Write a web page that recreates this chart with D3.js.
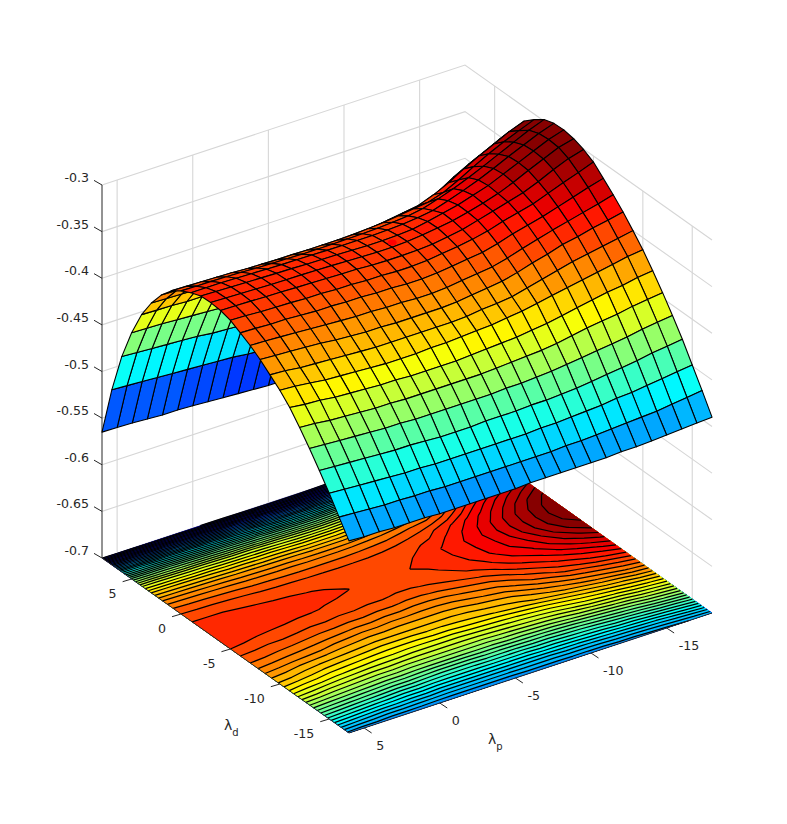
<!DOCTYPE html>
<html><head><meta charset="utf-8">
<script src="https://d3js.org/d3.v7.min.js"></script>
<style>html,body{margin:0;padding:0;background:#fff}svg{display:block}text{font-family:"DejaVu Sans",sans-serif;fill:#262626}</style>
</head><body><svg id="c" width="787" height="824"></svg>
<script>
const pValues=[-18,-17,-16,-15,-14,-13,-12,-11,-10,-9,-8,-7,-6,-5,-4,-3,-2,-1,0,1,2,3,4,5,6];
const dValues=[-17,-16,-15,-14,-13,-12,-11,-10,-9,-8,-7,-6,-5,-4,-3,-2,-1,0,1,2,3,4,5,6,7,8];
const zTicks=[-0.7,-0.65,-0.6,-0.55,-0.5,-0.45,-0.4,-0.35,-0.3];
const zTickLabels=["-0.7","-0.65","-0.6","-0.55","-0.5","-0.45","-0.4","-0.35","-0.3"];
const pTicks=[5,0,-5,-10,-15];
const dTicks=[5,0,-5,-10,-15];
const saddleMarker=[-6,-3,-0.3435];
const contourLevels=[-0.5695,-0.5635,-0.5575,-0.5515,-0.5455,-0.5395,-0.5335,-0.5275,-0.5215,-0.5155,-0.5095,-0.5035,-0.4975,-0.4915,-0.4855,-0.4795,-0.4735,-0.4675,-0.4615,-0.4555,-0.4495,-0.4435,-0.4375,-0.4315,-0.4255,-0.4195,-0.4135,-0.4075,-0.4015,-0.3955,-0.3895,-0.3835,-0.3775,-0.3715,-0.3655,-0.3595,-0.3535,-0.3475,-0.3415,-0.3355,-0.3295,-0.3235,-0.3175,-0.3115,-0.3055,-0.2995];
// surface heights, one list per lambda_d row, lambda_p from -18 to 6
const zDm17=[-.490,-.491,-.492,-.493,-.494,-.495,-.495,-.496,-.496,-.496,-.496,-.496,-.496,-.497,-.497,-.497,-.497,-.497,-.497,-.496,-.496,-.496,-.495,-.495,-.494];
const zDm16=[-.469,-.471,-.473,-.475,-.476,-.477,-.478,-.479,-.480,-.480,-.481,-.481,-.481,-.481,-.481,-.481,-.481,-.481,-.480,-.480,-.479,-.479,-.478,-.477,-.476];
const zDm15=[-.449,-.451,-.453,-.455,-.457,-.458,-.460,-.461,-.462,-.463,-.463,-.464,-.464,-.464,-.464,-.464,-.464,-.464,-.463,-.463,-.462,-.461,-.460,-.459,-.458];
const zDm14=[-.429,-.431,-.433,-.436,-.438,-.440,-.442,-.444,-.445,-.446,-.446,-.447,-.447,-.447,-.448,-.448,-.448,-.447,-.446,-.446,-.445,-.444,-.443,-.442,-.441];
const zDm13=[-.411,-.413,-.415,-.418,-.420,-.422,-.424,-.426,-.428,-.429,-.430,-.430,-.431,-.431,-.431,-.431,-.431,-.431,-.430,-.430,-.429,-.428,-.427,-.426,-.425];
const zDm12=[-.394,-.396,-.398,-.401,-.403,-.405,-.408,-.411,-.413,-.414,-.415,-.416,-.417,-.417,-.417,-.417,-.417,-.417,-.416,-.416,-.415,-.414,-.413,-.411,-.410];
const zDm11=[-.378,-.380,-.383,-.385,-.388,-.391,-.394,-.397,-.399,-.401,-.402,-.403,-.404,-.405,-.405,-.405,-.405,-.404,-.404,-.403,-.402,-.401,-.399,-.398,-.396];
const zDm10=[-.363,-.365,-.368,-.371,-.374,-.377,-.380,-.383,-.386,-.388,-.390,-.391,-.392,-.393,-.393,-.394,-.394,-.394,-.393,-.392,-.391,-.390,-.388,-.386,-.385];
const zDm9=[-.350,-.353,-.356,-.359,-.362,-.366,-.370,-.374,-.378,-.380,-.381,-.383,-.384,-.384,-.384,-.384,-.384,-.384,-.383,-.382,-.381,-.380,-.379,-.377,-.376];
const zDm8=[-.3375,-.341,-.344,-.348,-.351,-.356,-.360,-.365,-.369,-.371,-.373,-.375,-.376,-.376,-.376,-.376,-.375,-.375,-.374,-.373,-.371,-.370,-.369,-.368,-.367];
const zDm7=[-.3265,-.331,-.335,-.339,-.343,-.3475,-.352,-.357,-.361,-.363,-.365,-.367,-.368,-.368,-.367,-.367,-.366,-.366,-.365,-.364,-.363,-.362,-.361,-.360,-.3595];
const zDm6=[-.3165,-.321,-.326,-.331,-.336,-.340,-.344,-.349,-.353,-.355,-.357,-.359,-.360,-.360,-.359,-.359,-.358,-.358,-.357,-.357,-.356,-.355,-.355,-.354,-.3535];
const zDm5=[-.3065,-.3125,-.318,-.324,-.330,-.334,-.338,-.343,-.3465,-.349,-.351,-.353,-.354,-.354,-.353,-.353,-.352,-.352,-.351,-.351,-.350,-.3495,-.349,-.348,-.3475];
const zDm4=[-.3005,-.305,-.3115,-.319,-.3255,-.330,-.3345,-.339,-.3435,-.346,-.3485,-.3495,-.350,-.350,-.3495,-.3485,-.3482,-.3478,-.3472,-.3468,-.3462,-.3458,-.3452,-.3448,-.3445];
const zDm3=[-.2965,-.3005,-.3075,-.3145,-.322,-.3285,-.3335,-.3378,-.3415,-.344,-.346,-.3478,-.3485,-.3485,-.348,-.3474,-.3468,-.3464,-.346,-.3458,-.3455,-.345,-.3445,-.344,-.3435];
const zDm2=[-.2945,-.2995,-.3065,-.3135,-.3205,-.3275,-.3325,-.3375,-.341,-.3445,-.3475,-.3485,-.349,-.349,-.3485,-.348,-.3477,-.3474,-.3468,-.3465,-.346,-.3455,-.345,-.3445,-.344];
const zDm1=[-.295,-.3005,-.3075,-.3145,-.322,-.329,-.335,-.3405,-.3455,-.348,-.3495,-.3505,-.351,-.351,-.351,-.3508,-.3505,-.3502,-.350,-.3495,-.349,-.3485,-.348,-.348,-.348];
const zD0=[-.2985,-.3045,-.312,-.3195,-.327,-.334,-.3405,-.346,-.351,-.3535,-.355,-.356,-.3565,-.3568,-.357,-.357,-.357,-.3565,-.3562,-.3558,-.355,-.3545,-.354,-.3538,-.3535];
const zD1=[-.306,-.3125,-.319,-.3265,-.335,-.344,-.352,-.357,-.359,-.361,-.363,-.364,-.365,-.3655,-.3655,-.3655,-.365,-.365,-.3645,-.364,-.363,-.3625,-.362,-.3615,-.361];
const zD2=[-.315,-.321,-.329,-.3365,-.345,-.3545,-.362,-.368,-.3705,-.373,-.375,-.377,-.378,-.378,-.378,-.3775,-.377,-.3768,-.3763,-.3758,-.375,-.3745,-.374,-.3735,-.373];
const zD3=[-.331,-.337,-.345,-.3525,-.361,-.371,-.379,-.384,-.387,-.390,-.392,-.394,-.395,-.395,-.395,-.394,-.393,-.393,-.392,-.392,-.391,-.3905,-.390,-.3895,-.389];
const zD4=[-.352,-.358,-.366,-.374,-.383,-.392,-.400,-.405,-.409,-.412,-.414,-.416,-.417,-.417,-.416,-.415,-.414,-.413,-.413,-.412,-.411,-.411,-.410,-.4095,-.409];
const zD5=[-.382,-.388,-.396,-.404,-.412,-.421,-.429,-.434,-.438,-.441,-.443,-.445,-.446,-.446,-.445,-.444,-.443,-.442,-.441,-.440,-.439,-.438,-.437,-.4365,-.436];
const zD6=[-.419,-.425,-.433,-.441,-.449,-.458,-.466,-.470,-.474,-.477,-.479,-.481,-.482,-.482,-.481,-.480,-.478,-.477,-.476,-.474,-.473,-.472,-.471,-.470,-.469];
const zD7=[-.464,-.470,-.477,-.485,-.492,-.501,-.509,-.513,-.517,-.520,-.522,-.524,-.525,-.525,-.523,-.522,-.520,-.519,-.518,-.517,-.516,-.515,-.514,-.513,-.512];
const zD8=[-.519,-.524,-.530,-.536,-.543,-.551,-.558,-.562,-.566,-.569,-.571,-.573,-.574,-.574,-.573,-.572,-.571,-.570,-.569,-.568,-.568,-.567,-.566,-.5655,-.565];
const zRows=[zDm17,zDm16,zDm15,zDm14,zDm13,zDm12,zDm11,zDm10,zDm9,zDm8,zDm7,zDm6,zDm5,zDm4,zDm3,zDm2,zDm1,zD0,zD1,zD2,zD3,zD4,zD5,zD6,zD7,zD8];

const svg=d3.select("#c");
const originX=102,originY=558;
const dToX=d3.scaleLinear([8,-17],[0,247]), dToY=d3.scaleLinear([8,-17],[0,175]);
const pToX=d3.scaleLinear([6,-18],[0,363]), pToY=d3.scaleLinear([6,-18],[0,-120]);
const zToY=d3.scaleLinear([-0.7,-0.3],[0,-373]);
const proj=(p,d,z)=>[originX+dToX(d)+pToX(p),originY+dToY(d)+pToY(p)+zToY(z)];
const zFloor=-0.7,zTop=-0.3,pFar=-18,pNear=6,dBack=8,dFront=-17;

const colorDomain=d3.scaleLinear([-0.572,-0.302],[0,1]).clamp(true);
const cl=v=>Math.max(0,Math.min(1,v));
const jet=z=>{const i=Math.min(63,Math.floor(colorDomain(z)*64));const t=(i+.5)/64;
 return d3.rgb(255*cl(1.5-Math.abs(4*t-3)),255*cl(1.5-Math.abs(4*t-2)),255*cl(1.5-Math.abs(4*t-1))).formatHex();};

const gridColor="#d6d6d6";
const grid=svg.append("g").attr("fill","none").attr("stroke",gridColor).attr("stroke-width",1.1);
const line=d3.line();
zTicks.forEach(z=>grid.append("path").attr("d",line([proj(pNear,dBack,z),proj(pFar,dBack,z),proj(pFar,dFront,z)])));
pTicks.forEach(p=>grid.append("path").attr("d",line([proj(p,dBack,zFloor),proj(p,dBack,zTop)])));
dTicks.forEach(d=>grid.append("path").attr("d",line([proj(pFar,d,zFloor),proj(pFar,d,zTop)])));

const nP=pValues.length,nD=dValues.length;
const flat=zRows.flat();
const contours=d3.contours().size([nP,nD]).smooth(true).thresholds(contourLevels)(flat);
const gridToFloor=(x,y)=>{
  const gx=Math.max(0,Math.min(nP-1,x-.5)),gy=Math.max(0,Math.min(nD-1,y-.5));
  return proj(pFar+gx,dFront+gy,zFloor);};
const floor=svg.append("g");
floor.append("path").attr("d",line([proj(pNear,dBack,zFloor),proj(pFar,dBack,zFloor),proj(pFar,dFront,zFloor),proj(pNear,dFront,zFloor)])+"Z").attr("fill",jet(-0.574));
const strokes=[];
contours.forEach(c=>{
  let fill="",stroke="";
  c.coordinates.forEach(poly=>poly.forEach(ring=>{
    const pts=ring.map(([x,y])=>({x,y,q:gridToFloor(x,y),edge:(x<=.5||x>=nP-.5||y<=.5||y>=nD-.5)}));
    fill+="M"+pts.map(o=>o.q.join(",")).join("L")+"Z";
    for(let i=1;i<pts.length;i++){
      const a=pts[i-1],b=pts[i];
      if(a.edge&&b.edge) continue;
      stroke+="M"+a.q.join(",")+"L"+b.q.join(",");
    }
  }));
  floor.append("path").attr("d",fill).attr("fill",jet(c.value)).attr("fill-rule","evenodd");
  strokes.push(stroke);
});
const contourLines=svg.append("g").attr("fill","none").attr("stroke","#000").attr("stroke-width",1.25);
strokes.forEach(s=>{if(s)contourLines.append("path").attr("d",s);});

const axisColor="#262626";
const ax=svg.append("g").attr("fill","none").attr("stroke",axisColor).attr("stroke-width",1);
ax.append("path").attr("d",line([proj(pNear,dBack,zFloor),proj(pNear,dFront,zFloor),proj(pFar,dFront,zFloor)]));
ax.append("path").attr("d",line([proj(pNear,dBack,zFloor),proj(pNear,dBack,zTop)]));
zTicks.forEach(z=>{const[x,y]=proj(pNear,dBack,z);ax.append("path").attr("d",line([[x,y],[x-8,y-4.6]]));});
dTicks.forEach(d=>{const[x,y]=proj(pNear,d,zFloor);ax.append("path").attr("d",line([[x,y],[x-9,y+2.7]]));});
pTicks.forEach(p=>{const[x,y]=proj(p,dFront,zFloor);ax.append("path").attr("d",line([[x,y],[x+7.5,y+5]]));});

const cells=[];
for(let j=0;j<nD-1;j++)for(let i=0;i<nP-1;i++){
  const p0=pValues[i],p1=pValues[i+1],d0=dValues[j],d1=dValues[j+1];
  const pts=[proj(p0,d0,zRows[j][i]),proj(p1,d0,zRows[j][i+1]),proj(p1,d1,zRows[j+1][i+1]),proj(p0,d1,zRows[j+1][i])];
  const key=dToY((d0+d1)/2)+pToY((p0+p1)/2);
  cells.push({pts,key,color:jet(zRows[j][i])});
}
cells.sort((a,b)=>a.key-b.key);
svg.append("g").selectAll("path").data(cells).join("path")
  .attr("d",c=>line(c.pts)+"Z").attr("fill",c=>c.color).attr("stroke","#000").attr("stroke-width",1.1).attr("stroke-linejoin","round");

const m=proj(...saddleMarker);
svg.append("ellipse").attr("cx",m[0]).attr("cy",m[1]).attr("rx",4.5).attr("ry",3).attr("fill","#f00");

const fs=12.6;
const t=svg.append("g").attr("font-size",fs);
zTicks.forEach((z,i)=>{const[x,y]=proj(pNear,dBack,z);t.append("text").attr("x",x-13).attr("y",y-7.5).attr("dy",".36em").attr("text-anchor","end").text(zTickLabels[i]);});
dTicks.forEach(d=>{const[x,y]=proj(pNear,d,zFloor);t.append("text").attr("x",x-15).attr("y",y+14).attr("dy",".36em").attr("text-anchor","end").text(d);});
pTicks.forEach(p=>{const[x,y]=proj(p,dFront,zFloor);t.append("text").attr("x",x+12).attr("y",y+17).attr("dy",".36em").attr("text-anchor","start").text(p);});
const lab=(x,y,sub)=>{const g=svg.append("text").attr("x",x).attr("y",y).attr("font-size",14);
  g.append("tspan").text("λ");g.append("tspan").attr("font-size",10).attr("dy",6).text(sub);};
lab(224,730,"d");lab(488,744,"p");
</script></body></html>
